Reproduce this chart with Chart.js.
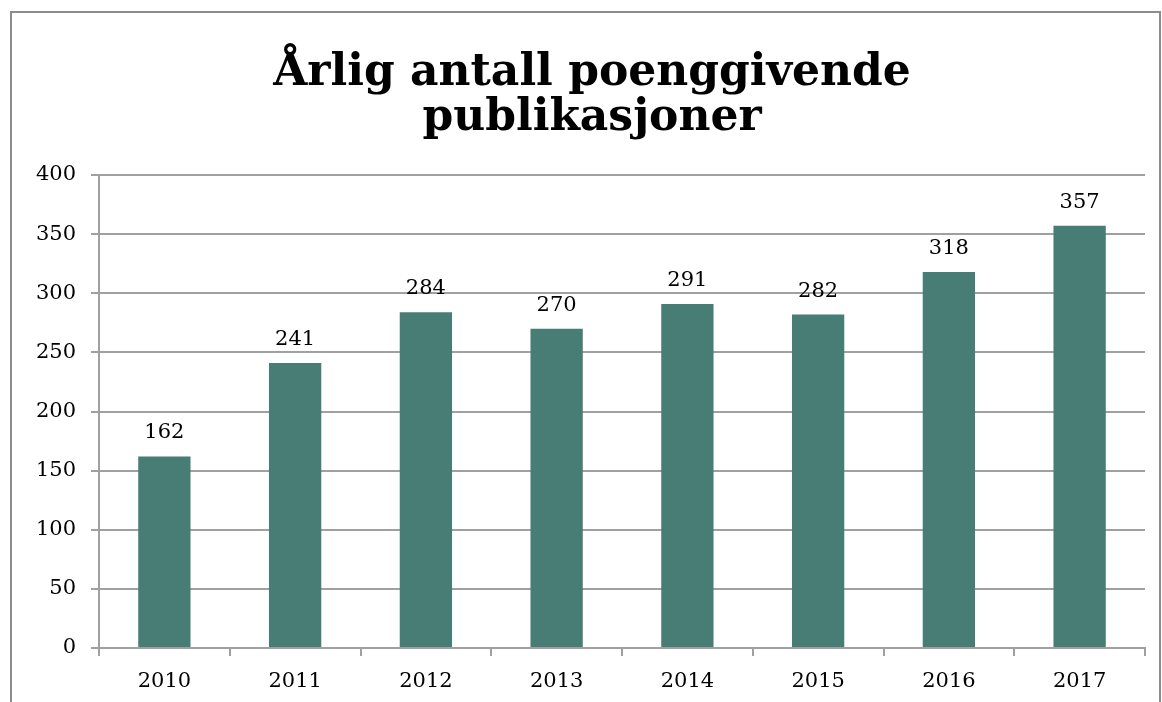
<!DOCTYPE html>
<html>
<head>
<meta charset="utf-8">
<title>Årlig antall poenggivende publikasjoner</title>
<script src="https://cdn.jsdelivr.net/npm/chart.js@4/dist/chart.umd.min.js"></script>
<style>
    html, body { margin: 0; padding: 0; background: #fff; overflow: hidden; }
    #wrap { position: relative; width: 1162px; height: 702px; }
</style>
</head>
<body>
<div id="wrap"><canvas id="chart" width="1162" height="702"></canvas></div>
<script>
// Chart data
const years = ['2010', '2011', '2012', '2013', '2014', '2015', '2016', '2017'];
const publications = [162, 241, 284, 270, 291, 282, 318, 357];
const yTicks = [0, 50, 100, 150, 200, 250, 300, 350, 400];
const titleLines = ['Årlig antall poenggivende', 'publikasjoner'];

const barColor = '#477d74';
const gridColor = '#a0a0a0';
const serif = '"DejaVu Serif", "Liberation Serif", serif';

// Outer frame and title, centred on the frame rather than the plot
const framePlugin = {
    id: 'frame',
    beforeDraw(chart) {
        const ctx = chart.ctx;
        ctx.save();
        ctx.strokeStyle = '#8c8c8c';
        ctx.lineWidth = 2;
        ctx.strokeRect(11, 12, 1149, 740);

        ctx.font = 'bold 44px ' + serif;
        ctx.fillStyle = '#000';
        ctx.textAlign = 'center';
        ctx.textBaseline = 'alphabetic';
        titleLines.forEach((line, i) => {
            ctx.fillText(line, 592, 85 + i * 45);
        });
        ctx.restore();
    }
};

// Value labels above each bar
const valueLabels = {
    id: 'valueLabels',
    afterDatasetsDraw(chart) {
        const ctx = chart.ctx;
        const meta = chart.getDatasetMeta(0);
        ctx.save();
        ctx.font = '21px ' + serif;
        ctx.fillStyle = '#000';
        ctx.textAlign = 'center';
        ctx.textBaseline = 'alphabetic';
        meta.data.forEach((bar, i) => {
            ctx.fillText(String(publications[i]), bar.x, bar.y - 18);
        });
        ctx.restore();
    }
};

const ctx = document.getElementById('chart').getContext('2d');
const chart = new Chart(ctx, {
    type: 'bar',
    data: {
        labels: years,
        datasets: [{
            data: publications,
            backgroundColor: barColor,
            borderWidth: 0,
            barPercentage: 0.4,
            categoryPercentage: 1.0
        }]
    },
    options: {
        responsive: false,
        animation: false,
        layout: {
            padding: { left: 0, right: 17, top: 175, bottom: 0 }
        },
        plugins: {
            legend: { display: false },
            tooltip: { enabled: false },
            title: { display: false }
        },
        scales: {
            x: {
                offset: true,
                grid: {
                    offset: true,
                    drawOnChartArea: false,
                    drawTicks: true,
                    tickLength: 8,
                    color: gridColor,
                    lineWidth: 2
                },
                border: { display: true, color: gridColor, width: 2 },
                ticks: {
                    color: '#000',
                    font: { family: serif, size: 21 },
                    padding: 13
                },
                afterFit(scale) { scale.height = 54; }
            },
            y: {
                min: 0,
                max: 400,
                afterBuildTicks(scale) {
                    scale.ticks = yTicks.map(v => ({ value: v }));
                },
                grid: {
                    color: gridColor,
                    lineWidth: 2,
                    tickLength: 8
                },
                border: { display: true, color: gridColor, width: 2 },
                ticks: {
                    color: '#000',
                    font: { family: serif, size: 21 },
                    padding: 15
                },
                afterFit(scale) { scale.width = 99; }
            }
        }
    },
    plugins: [framePlugin, valueLabels]
});
</script>
</body>
</html>
